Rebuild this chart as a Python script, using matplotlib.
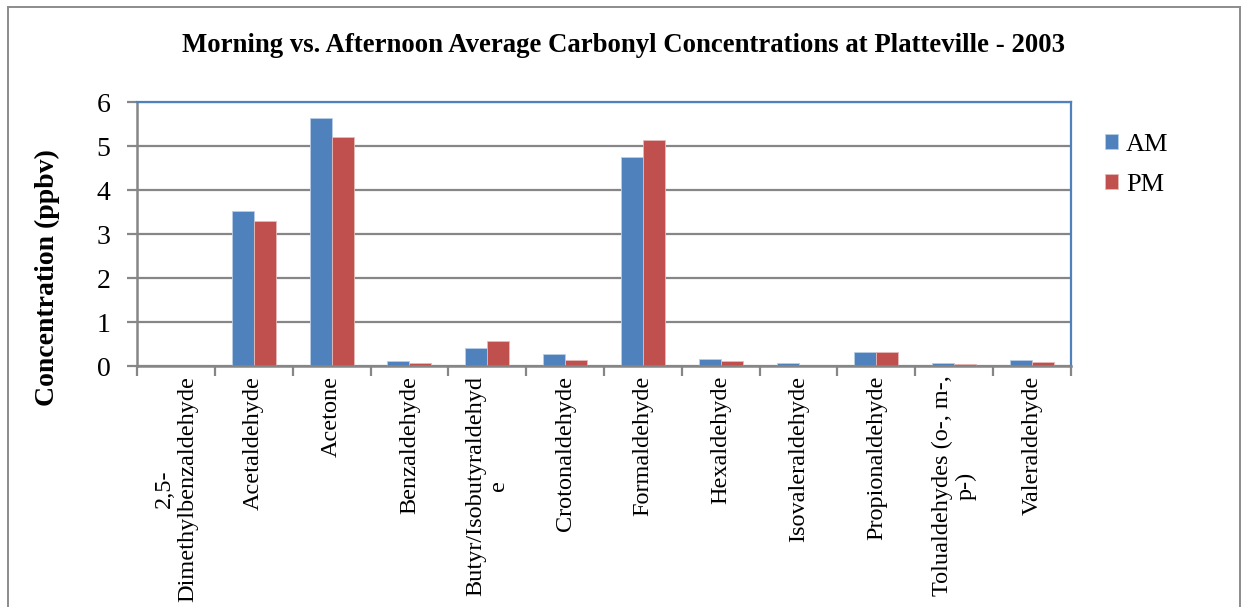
import numpy as np
import matplotlib
matplotlib.use("Agg")
import matplotlib.pyplot as plt
from matplotlib.lines import Line2D
from matplotlib.ticker import FixedLocator

plt.rcParams['font.family'] = ['Liberation Serif', 'DejaVu Serif']

categories = [
    "2,5-\nDimethylbenzaldehyde", "Acetaldehyde", "Acetone", "Benzaldehyde",
    "Butyr/Isobutyraldehyd\ne", "Crotonaldehyde", "Formaldehyde", "Hexaldehyde",
    "Isovaleraldehyde", "Propionaldehyde", "Tolualdehydes (o-, m-,\np-)",
    "Valeraldehyde",
]
am_values = [0.0, 3.52, 5.63, 0.11, 0.42, 0.28, 4.74, 0.16, 0.06, 0.32, 0.075, 0.14]
pm_values = [0.0, 3.29, 5.20, 0.06, 0.57, 0.13, 5.14, 0.11, 0.0, 0.31, 0.05, 0.08]
series_names = ["AM", "PM"]
y_ticks = [0, 1, 2, 3, 4, 5, 6]

AM_COLOR = "#4F81BD"
PM_COLOR = "#C0504D"
GRID = "#868686"

W, H = 1241, 607
fig = plt.figure(figsize=(W / 100, H / 100), dpi=100)
ax = fig.add_axes([137 / W, 1 - 366 / H, (1071 - 137) / W, (366 - 102) / H])

x = np.arange(len(categories))
bw = 0.283
ax.bar(x - bw / 2, am_values, bw, color=AM_COLOR, edgecolor="#B9CDE5",
       linewidth=0.6, label=series_names[0], zorder=3)
ax.bar(x + bw / 2, pm_values, bw, color=PM_COLOR, edgecolor="#E6B9B8",
       linewidth=0.6, label=series_names[1], zorder=3)

ax.set_xlim(-0.5, len(categories) - 0.5)
ax.set_ylim(0, 6)
ax.set_yticks(y_ticks)
ax.set_yticklabels([str(v) for v in y_ticks], fontsize=20)
ax.yaxis.grid(True, color=GRID, linewidth=1.6, zorder=0)
ax.set_axisbelow(True)

ax.set_xticks(x)
ax.set_xticklabels(categories, rotation=90, fontsize=17.5, ha="center", va="top",
                   multialignment="center", linespacing=1.15)
ax.xaxis.set_minor_locator(FixedLocator(np.arange(-0.5, len(categories), 1.0)))
ax.tick_params(axis="x", which="major", length=0, pad=7)
ax.tick_params(axis="x", which="minor", length=7, width=1.6, color=GRID, direction="out")
ax.tick_params(axis="y", length=7, width=1.6, color=GRID, direction="out", pad=12)

for side in ("left", "bottom"):
    ax.spines[side].set_color(GRID)
    ax.spines[side].set_linewidth(1.8)
for side in ("top", "right"):
    ax.spines[side].set_color(AM_COLOR)
    ax.spines[side].set_linewidth(1.6)
ax.spines["bottom"].set_zorder(4)

fig.text(47 / W, 1 - 278 / H, "Concentration (ppbv)", rotation=90,
         ha="center", va="center", fontsize=20, fontweight="bold")

fig.text(624 / W, 1 - 45 / H,
         "Morning vs. Afternoon Average Carbonyl Concentrations at Platteville - 2003",
         ha="center", va="center", fontsize=19.3, fontweight="bold")

leg = fig.legend(loc="center left", bbox_to_anchor=(1105 / W, 1 - 165 / H),
                 frameon=False, fontsize=19, handlelength=0.5, handleheight=0.5,
                 handletextpad=0.3, labelspacing=0.7, borderaxespad=0, borderpad=0)

# Outer chart frame (open at the bottom edge)
for xs, ys in (([8, 8], [607, 7]), ([8, 1240], [7, 7]), ([1240, 1240], [7, 607])):
    fig.add_artist(Line2D([v / W for v in xs], [1 - v / H for v in ys],
                          transform=fig.transFigure, color="#8C8C8C", linewidth=1.4))

fig.savefig("out.png", dpi=100)
